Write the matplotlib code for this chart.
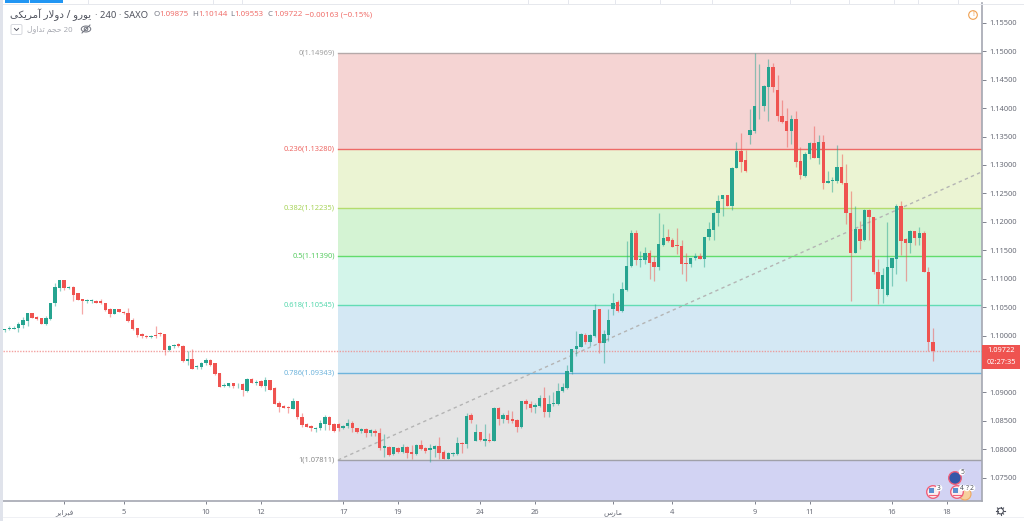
import numpy as np
import matplotlib

matplotlib.use("Agg")
import matplotlib.pyplot as plt
from matplotlib.patches import Circle, Ellipse, FancyBboxPatch, Rectangle

plt.rcParams["font.family"] = ["Noto Sans", "DejaVu Sans"]

opens = [
    1.1009, 1.1012, 1.1012, 1.1013, 1.1019, 1.1026, 1.1039, 1.1033, 1.1030, 1.1021,
    1.1029, 1.1057, 1.1084, 1.1097, 1.1084, 1.1086, 1.1074, 1.1064, 1.1060, 1.1060,
    1.1061, 1.1061, 1.1057, 1.1046, 1.1037, 1.1046, 1.1042, 1.1039, 1.1027, 1.1013,
    1.1002, 1.1000, 1.0998, 1.1001, 1.1005, 1.1002, 1.0975, 1.0982, 1.0985, 1.0982,
    1.0956, 1.0959, 1.0944, 1.0944, 1.0951, 1.0957, 1.0951, 1.0934, 1.0911, 1.0911,
    1.0916, 1.0914, 1.0915, 1.0903, 1.0924, 1.0916, 1.0920, 1.0911, 1.0922, 1.0907,
    1.0881, 1.0876, 1.0874, 1.0871, 1.0885, 1.0856, 1.0844, 1.0841, 1.0836, 1.0837,
    1.0844, 1.0856, 1.0845, 1.0845, 1.0837, 1.0841, 1.0846, 1.0837, 1.0832, 1.0836,
    1.0828, 1.0832, 1.0828, 1.0803, 1.0804, 1.0791, 1.0803, 1.0796, 1.0804, 1.0795,
    1.0792, 1.0808, 1.0802, 1.0798, 1.0800, 1.0806, 1.0795, 1.0783, 1.0792, 1.0792,
    1.0811, 1.0809, 1.0860, 1.0815, 1.0830, 1.0815, 1.0817, 1.0815, 1.0872, 1.0854,
    1.0860, 1.0853, 1.0851, 1.0839, 1.0884, 1.0880, 1.0874, 1.0876, 1.0890, 1.0865,
    1.0880, 1.0880, 1.0902, 1.0908, 1.0935, 1.0977, 1.0980, 1.1001, 1.0988, 1.1000,
    1.1046, 1.0987, 1.1001, 1.1047, 1.1059, 1.1043, 1.1080, 1.1122, 1.1181, 1.1132,
    1.1132, 1.1146, 1.1129, 1.1120, 1.1159, 1.1173, 1.1168, 1.1159, 1.1158, 1.1127,
    1.1125, 1.1137, 1.1139, 1.1135, 1.1173, 1.1186, 1.1215, 1.1240, 1.1247, 1.1228,
    1.1294, 1.1324, 1.1308, 1.1353, 1.1360, 1.1403, 1.1403, 1.1437, 1.1472, 1.1432,
    1.1386, 1.1377, 1.1360, 1.1381, 1.1307, 1.1281, 1.1320, 1.1339, 1.1313, 1.1340,
    1.1269, 1.1271, 1.1272, 1.1297, 1.1269, 1.1216, 1.1146, 1.1187, 1.1168, 1.1221,
    1.1209, 1.1112, 1.1082, 1.1072, 1.1119, 1.1134, 1.1228, 1.1169, 1.1162, 1.1183,
    1.1171, 1.1181, 1.1112, 1.0988,
]
highs = [
    1.1012, 1.1017, 1.1016, 1.1023, 1.1032, 1.1040, 1.1039, 1.1034, 1.1030, 1.1034,
    1.1057, 1.1093, 1.1098, 1.1098, 1.1087, 1.1087, 1.1075, 1.1065, 1.1065, 1.1065,
    1.1063, 1.1065, 1.1058, 1.1048, 1.1047, 1.1047, 1.1044, 1.1049, 1.1030, 1.1013,
    1.1004, 1.1001, 1.1001, 1.1016, 1.1007, 1.1002, 1.0983, 1.0985, 1.0986, 1.0983,
    1.0973, 1.0976, 1.0948, 1.0954, 1.0960, 1.0958, 1.0952, 1.0934, 1.0917, 1.0917,
    1.0917, 1.0916, 1.0916, 1.0925, 1.0925, 1.0922, 1.0921, 1.0927, 1.0922, 1.0910,
    1.0884, 1.0877, 1.0876, 1.0890, 1.0885, 1.0863, 1.0846, 1.0843, 1.0840, 1.0852,
    1.0860, 1.0859, 1.0847, 1.0847, 1.0843, 1.0853, 1.0850, 1.0838, 1.0838, 1.0838,
    1.0835, 1.0835, 1.0838, 1.0827, 1.0806, 1.0804, 1.0804, 1.0809, 1.0806, 1.0807,
    1.0810, 1.0816, 1.0804, 1.0810, 1.0807, 1.0822, 1.0798, 1.0796, 1.0796, 1.0821,
    1.0813, 1.0864, 1.0863, 1.0844, 1.0831, 1.0844, 1.0829, 1.0874, 1.0874, 1.0863,
    1.0869, 1.0867, 1.0853, 1.0885, 1.0889, 1.0884, 1.0881, 1.0895, 1.0910, 1.0895,
    1.0901, 1.0916, 1.0916, 1.0949, 1.0977, 1.1008, 1.1005, 1.1004, 1.1003, 1.1055,
    1.1046, 1.1010, 1.1046, 1.1075, 1.1063, 1.1095, 1.1166, 1.1186, 1.1186, 1.1149,
    1.1156, 1.1150, 1.1139, 1.1215, 1.1196, 1.1187, 1.1171, 1.1189, 1.1168, 1.1146,
    1.1136, 1.1145, 1.1145, 1.1174, 1.1200, 1.1218, 1.1247, 1.1248, 1.1248, 1.1297,
    1.1341, 1.1356, 1.1326, 1.1398, 1.1497, 1.1478, 1.1441, 1.1486, 1.1480, 1.1459,
    1.1415, 1.1401, 1.1388, 1.1395, 1.1332, 1.1322, 1.1341, 1.1368, 1.1353, 1.1353,
    1.1289, 1.1278, 1.1335, 1.1320, 1.1302, 1.1254, 1.1228, 1.1201, 1.1222, 1.1222,
    1.1209, 1.1135, 1.1118, 1.1200, 1.1136, 1.1231, 1.1237, 1.1171, 1.1186, 1.1184,
    1.1190, 1.1183, 1.1121, 1.1014,
]
lows = [
    1.1007, 1.1010, 1.1011, 1.1007, 1.1013, 1.1016, 1.1030, 1.1027, 1.1020, 1.1019,
    1.1028, 1.1052, 1.1079, 1.1080, 1.1082, 1.1060, 1.1062, 1.1037, 1.1058, 1.1058,
    1.1058, 1.1056, 1.1044, 1.1033, 1.1037, 1.1041, 1.1038, 1.1023, 1.1010, 1.0998,
    1.0995, 1.0995, 1.0995, 1.0995, 1.1000, 1.0965, 1.0972, 1.0978, 1.0980, 1.0954,
    1.0948, 1.0942, 1.0942, 1.0941, 1.0949, 1.0946, 1.0931, 1.0910, 1.0909, 1.0909,
    1.0908, 1.0907, 1.0893, 1.0901, 1.0916, 1.0913, 1.0909, 1.0903, 1.0904, 1.0880,
    1.0866, 1.0872, 1.0864, 1.0870, 1.0854, 1.0840, 1.0839, 1.0832, 1.0831, 1.0834,
    1.0834, 1.0834, 1.0831, 1.0832, 1.0836, 1.0837, 1.0831, 1.0829, 1.0829, 1.0822,
    1.0823, 1.0823, 1.0798, 1.0786, 1.0789, 1.0790, 1.0794, 1.0793, 1.0784, 1.0782,
    1.0790, 1.0799, 1.0793, 1.0778, 1.0786, 1.0782, 1.0782, 1.0782, 1.0789, 1.0790,
    1.0793, 1.0802, 1.0847, 1.0814, 1.0815, 1.0806, 1.0813, 1.0814, 1.0843, 1.0846,
    1.0846, 1.0846, 1.0831, 1.0838, 1.0871, 1.0866, 1.0863, 1.0874, 1.0856, 1.0856,
    1.0876, 1.0878, 1.0901, 1.0906, 1.0933, 1.0964, 1.0979, 1.0985, 1.0982, 1.0998,
    1.0969, 1.0951, 1.0991, 1.1036, 1.1041, 1.1042, 1.1078, 1.1121, 1.1124, 1.1121,
    1.1126, 1.1099, 1.1096, 1.1115, 1.1158, 1.1165, 1.1155, 1.1143, 1.1109, 1.1096,
    1.1120, 1.1132, 1.1134, 1.1120, 1.1168, 1.1168, 1.1193, 1.1211, 1.1227, 1.1220,
    1.1294, 1.1288, 1.1288, 1.1336, 1.1356, 1.1381, 1.1394, 1.1377, 1.1428, 1.1377,
    1.1373, 1.1332, 1.1337, 1.1297, 1.1276, 1.1279, 1.1310, 1.1312, 1.1302, 1.1258,
    1.1268, 1.1252, 1.1268, 1.1267, 1.1197, 1.1060, 1.1145, 1.1152, 1.1167, 1.1168,
    1.1108, 1.1055, 1.1058, 1.1069, 1.1087, 1.1109, 1.1142, 1.1096, 1.1145, 1.1159,
    1.1159, 1.1111, 1.0973, 1.0955,
]
closes = [
    1.1011, 1.1013, 1.1014, 1.1020, 1.1027, 1.1039, 1.1031, 1.1029, 1.1021, 1.1030,
    1.1057, 1.1085, 1.1097, 1.1084, 1.1086, 1.1072, 1.1063, 1.1060, 1.1063, 1.1063,
    1.1058, 1.1057, 1.1045, 1.1038, 1.1046, 1.1041, 1.1039, 1.1026, 1.1012, 1.1001,
    1.0999, 1.0997, 1.1000, 1.1000, 1.1002, 1.0975, 1.0982, 1.0984, 1.0982, 1.0955,
    1.0958, 1.0942, 1.0946, 1.0952, 1.0957, 1.0949, 1.0932, 1.0910, 1.0913, 1.0916,
    1.0912, 1.0915, 1.0904, 1.0924, 1.0917, 1.0919, 1.0911, 1.0922, 1.0905, 1.0880,
    1.0874, 1.0873, 1.0873, 1.0884, 1.0856, 1.0843, 1.0840, 1.0838, 1.0838, 1.0846,
    1.0856, 1.0843, 1.0832, 1.0837, 1.0841, 1.0846, 1.0837, 1.0831, 1.0836, 1.0828,
    1.0833, 1.0828, 1.0802, 1.0806, 1.0790, 1.0804, 1.0796, 1.0804, 1.0794, 1.0792,
    1.0808, 1.0800, 1.0797, 1.0802, 1.0806, 1.0793, 1.0783, 1.0794, 1.0794, 1.0811,
    1.0809, 1.0859, 1.0851, 1.0830, 1.0816, 1.0818, 1.0815, 1.0872, 1.0854, 1.0861,
    1.0852, 1.0850, 1.0840, 1.0884, 1.0880, 1.0873, 1.0877, 1.0890, 1.0865, 1.0880,
    1.0882, 1.0902, 1.0909, 1.0937, 1.0977, 1.0981, 1.1003, 1.0988, 1.1001, 1.1045,
    1.0987, 1.1002, 1.1027, 1.1057, 1.1043, 1.1081, 1.1123, 1.1180, 1.1132, 1.1134,
    1.1146, 1.1128, 1.1120, 1.1161, 1.1171, 1.1166, 1.1156, 1.1158, 1.1126, 1.1125,
    1.1136, 1.1140, 1.1135, 1.1174, 1.1187, 1.1216, 1.1237, 1.1247, 1.1228, 1.1295,
    1.1324, 1.1305, 1.1289, 1.1361, 1.1403, 1.1404, 1.1438, 1.1472, 1.1437, 1.1386,
    1.1375, 1.1360, 1.1381, 1.1306, 1.1282, 1.1320, 1.1339, 1.1313, 1.1340, 1.1269,
    1.1271, 1.1273, 1.1297, 1.1268, 1.1216, 1.1146, 1.1187, 1.1167, 1.1221, 1.1209,
    1.1112, 1.1081, 1.1107, 1.1121, 1.1136, 1.1227, 1.1167, 1.1162, 1.1183, 1.1171,
    1.1180, 1.1112, 1.0989, 1.0972,
]

fib_ratios = ["0", "0.236", "0.382", "0.5", "0.618", "0.786", "1"]
fib_levels = [1.14969, 1.13280, 1.12235, 1.11390, 1.10545, 1.09343, 1.07811]
fib_line_colors = ["#b5a9a9", "#ee6a66", "#b4dc6e", "#62dc6c", "#62dcb4", "#6fb4dc", "#a0a0a8"]
fib_label_colors = ["#a0a0a0", "#ee6a66", "#a8d45a", "#58cc62", "#58d8ae", "#6fb4dc", "#8a8a8a"]
fib_zone_colors = ["#f5d4d3", "#ebf4d3", "#d4f3d3", "#d3f5ea", "#d4e8f4", "#e5e5e5", "#d2d3f3"]
fib_start = 72.9
trend_end_price = 1.1288

last_price = 1.09722
countdown = "02:27:35"
# 1.09500 sits under the last price box in the reference
price_ticks = [1.075, 1.08, 1.085, 1.09, 1.10, 1.105, 1.11, 1.115, 1.12, 1.125, 1.13, 1.135, 1.14, 1.145, 1.15, 1.155]
time_tick_pos = [13, 26, 44, 56, 74, 86, 104, 116, 133, 146, 164, 176, 194, 206]

GREEN = "#26a490"
RED = "#ef5350"
GRAY_TEXT = "#6a6d78"

ARABIC_FORMS = {
    "ا": "\ufe8d\ufe8e", "آ": "\ufe81\ufe82", "د": "\ufea9\ufeaa", "ر": "\ufead\ufeae",
    "و": "\ufeed\ufeee", "ب": "\ufe8f\ufe90\ufe91\ufe92", "ت": "\ufe95\ufe96\ufe97\ufe98",
    "ج": "\ufe9d\ufe9e\ufe9f\ufea0", "ح": "\ufea1\ufea2\ufea3\ufea4",
    "س": "\ufeb1\ufeb2\ufeb3\ufeb4", "ف": "\ufed1\ufed2\ufed3\ufed4",
    "ل": "\ufedd\ufede\ufedf\ufee0", "م": "\ufee1\ufee2\ufee3\ufee4",
    "ک": "\ufb8e\ufb8f\ufb90\ufb91", "ی": "\ufbfc\ufbfd\ufbfe\ufbff",
}


def rtl(text):
    # matplotlib has no shaping, so pick the joined glyphs and reverse by hand
    text = text.replace("لا", "\ufefb")
    out = []
    for i, ch in enumerate(text):
        prev_ch = text[i - 1] if i else " "
        next_ch = text[i + 1] if i + 1 < len(text) else " "
        joins_prev = prev_ch in ARABIC_FORMS and len(ARABIC_FORMS[prev_ch]) == 4
        if ch == "\ufefb":
            out.append("\ufefc" if joins_prev else ch)
            continue
        forms = ARABIC_FORMS.get(ch)
        if forms is None:
            out.append(ch)
            continue
        joins_next = len(forms) == 4 and (next_ch in ARABIC_FORMS or next_ch == "\ufefb")
        index = {(False, False): 0, (True, False): 1, (False, True): 2, (True, True): 3}[(joins_prev, joins_next)]
        out.append(forms[index])
    return "".join(reversed(out))


time_tick_labels = [rtl("فبرایر"), "5", "10", "12", "17", "19", "24", "26", rtl("مارس"), "4", "9", "11", "16", "18"]

fig = plt.figure(figsize=(10.24, 5.21), dpi=100, facecolor="white")
ax = fig.add_axes([3 / 1024, 20 / 521, 979 / 1024, 498 / 521])
ax.set_xlim(-0.37, 213.7)
ax.set_ylim(1.0709, 1.15848)

x_right = ax.get_xlim()[1]
zone_edges = fib_levels + [ax.get_ylim()[0]]
for i, color in enumerate(fib_zone_colors):
    ax.fill_between([fib_start, x_right], zone_edges[i], zone_edges[i + 1], color=color, lw=0, zorder=1)
for ratio, level, line_color, label_color in zip(fib_ratios, fib_levels, fib_line_colors, fib_label_colors):
    ax.plot([fib_start, x_right], [level, level], color=line_color, lw=1, zorder=2)
    ax.text(fib_start - 0.7, level, f"{ratio}({level:.5f})", ha="right", va="center", fontsize=5.4, color=label_color)

ax.plot([fib_start, x_right], [fib_levels[-1], trend_end_price], color="#b4b4b4", lw=1, ls=(0, (2.4, 2.4)), zorder=2)
ax.axhline(last_price, color="#f08a88", lw=1, ls=(0, (1, 1)), alpha=0.8, zorder=2)

idx = np.arange(len(opens))
o = np.array(opens)
c = np.array(closes)
colors = [GREEN if cl >= op else RED for op, cl in zip(o, c)]
ax.vlines(idx, lows, highs, colors=colors, lw=0.9, alpha=0.5, zorder=3)
ax.bar(idx, np.abs(c - o), bottom=np.minimum(o, c), width=0.75, color=colors, lw=0, zorder=4)

for side in ["top", "left"]:
    ax.spines[side].set_visible(False)
for side in ["right", "bottom"]:
    ax.spines[side].set_color("#a4a7b1")
    ax.spines[side].set_linewidth(1.2)
ax.yaxis.tick_right()
ax.set_yticks(price_ticks, [f"{p:.5f}" for p in price_ticks])
ax.set_xticks(time_tick_pos, time_tick_labels)
ax.tick_params(axis="y", length=3, width=0.7, color="#80838e", labelsize=5.4, labelcolor=GRAY_TEXT, pad=2.5)
ax.tick_params(axis="x", length=2.5, width=0.7, color="#80838e", labelsize=5.4, labelcolor=GRAY_TEXT, pad=3.5)

# everything below is terminal chrome, placed in plain pixels
ui = fig.add_axes([0, 0, 1, 1], zorder=5)
ui.set_xlim(0, 1024)
ui.set_ylim(521, 0)
ui.axis("off")
ui.patch.set_alpha(0)

ui.add_patch(Rectangle((0, 0), 3, 521, color="#e0e3eb", lw=0))
ui.add_patch(Rectangle((5, 0), 58, 3, color="#2196f3", lw=0))
ui.plot([28.5, 28.5], [0, 3], color="white", lw=0.6)
for sep in [88, 213, 242, 528, 568, 615, 660, 712, 790, 849, 894, 918, 958]:
    ui.plot([sep, sep], [0, 3.5], color="#e0e3eb", lw=0.6)
ui.plot([3, 1024], [3.5, 3.5], color="#e6e8ed", lw=0.7)
ui.plot([3, 1024], [517, 517], color="#eceef2", lw=0.6)

ui.text(10, 15, rtl("یورو / دولار آمریکی"), fontsize=7.4, color="#50535e", va="center")
ui.text(95, 15, "· 240 · SAXO", fontsize=6.8, color="#50535e", va="center")
header_values = [("O", "1.09875", 153), ("H", "1.10144", 192), ("L", "1.09553", 230), ("C", "1.09722", 268)]
for letter, value, px in header_values:
    t = ui.text(px, 15, letter, fontsize=5.7, color="#787b86", va="center")
    ui.annotate(value, xy=(1, 0.5), xycoords=t, xytext=(0, 0), textcoords="offset points",
                fontsize=5.7, color="#f0706c", va="center")
ui.text(305, 15, "−0.00163 (−0.15%)", fontsize=5.7, color="#f0706c", va="center")

ui.add_patch(FancyBboxPatch((11, 24.5), 11, 10, boxstyle="round,pad=0,rounding_size=1.5", fc="white", ec="#d6d8de", lw=0.7))
ui.plot([14.5, 16.5, 18.5], [28.5, 30.5, 28.5], color="#50535e", lw=0.7)
ui.text(27, 29.5, rtl("حجم تداول") + " 20", fontsize=5.6, color="#a8aab2", va="center")
ui.add_patch(Ellipse((86, 29), 9.5, 6, fc="none", ec="#70737e", lw=0.7))
ui.add_patch(Circle((86, 29), 1.8, fc="none", ec="#70737e", lw=0.7))
ui.plot([82, 90], [33, 25], color="#70737e", lw=0.7)

ui.add_patch(Circle((973, 15), 4.3, fc="white", ec="#f0a050", lw=0.8))
ui.text(973, 15, "!", fontsize=5.2, color="#f0a050", ha="center", va="center")

ui.add_patch(Rectangle((982, 345), 37.5, 11.5, color=RED, lw=0))
ui.add_patch(Rectangle((982, 357), 37.5, 11.5, color=RED, lw=0))
ui.text(1001, 350.8, f"{last_price:.5f}", fontsize=5.4, color="white", ha="center", va="center")
ui.text(1001, 362.8, countdown, fontsize=5.4, color="white", ha="center", va="center")

gear = np.deg2rad(np.arange(0, 360, 45))
ui.add_patch(Circle((1000.5, 511), 2.9, fc="white", ec="#50535e", lw=0.8))
for a in gear:
    ui.plot([1000.5 + 3 * np.cos(a), 1000.5 + 4.3 * np.cos(a)], [511 + 3 * np.sin(a), 511 + 4.3 * np.sin(a)],
            color="#50535e", lw=0.8)

# economic event markers
ui.add_patch(Circle((965, 494), 6, fc="#f6cf9c", ec="#f0a860", lw=0.8))
for ex, ey in [(933, 492), (957, 492)]:
    ui.add_patch(Circle((ex, ey), 6.3, fc="#fbeef0", ec="#f0607a", lw=1))
    ui.add_patch(Rectangle((ex - 4, ey - 4), 5, 4.5, color="#5b8fd0", lw=0))
    ui.plot([ex - 4.5, ex + 4.5], [ey + 2.5, ey + 2.5], color="#f0607a", lw=0.8)
ui.add_patch(Circle((955, 478), 6.3, fc="#3558a8", ec="#f0607a", lw=1))
for bx, by, label in [(939, 488, "3"), (962, 472, "5"), (962, 488, "4"), (967, 488, "?"), (972, 488, "2")]:
    ui.add_patch(Circle((bx, by), 3.3, fc="white", ec="none"))
for bx, by, label in [(939, 488, "3"), (962, 472, "5"), (962, 488, "4"), (967, 488, "?"), (972, 488, "2")]:
    ui.text(bx, by, label, fontsize=4.8, color="#50535e", ha="center", va="center")

fig.savefig("out.png", dpi=100)
plt.close(fig)
